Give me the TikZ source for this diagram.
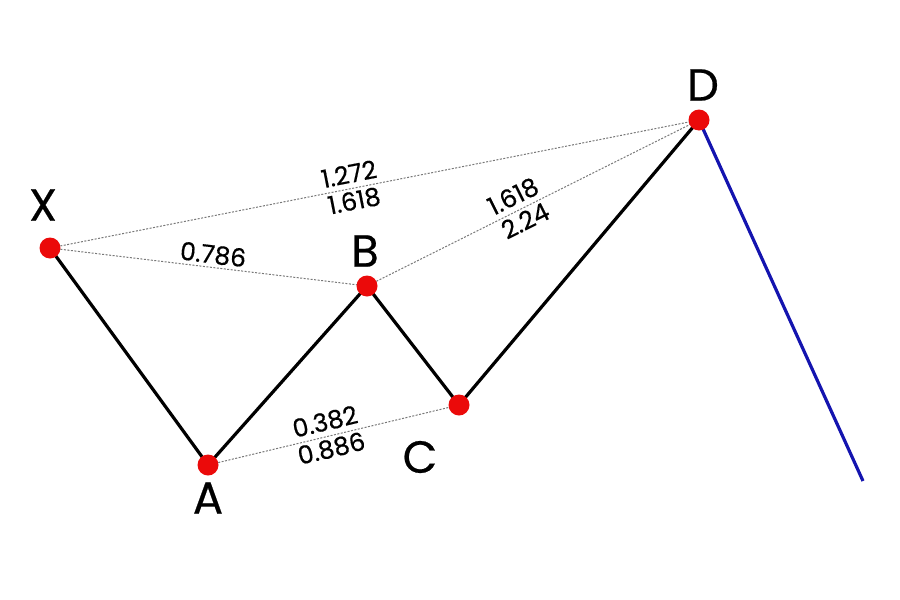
\documentclass[tikz,border=0pt]{standalone}
\usepackage{fontspec}
\setmainfont{Poppins}[FakeBold=0.5]
\definecolor{dotred}{RGB}{235,10,10}
\definecolor{legblue}{RGB}{20,20,175}
\definecolor{guide}{RGB}{120,120,120}
\begin{document}
\begin{tikzpicture}[x=1pt,y=-1pt,
  leg/.style={line width=3.2pt,black},
  blueleg/.style={line width=3.2pt,legblue},
  guideline/.style={line width=1pt,guide,dash pattern=on 2pt off 1.5pt},
  pt/.style={circle,fill=dotred,minimum size=21pt,inner sep=0pt},
  letter/.style={font=\fontsize{45}{45}\selectfont,text=black},
  ratio/.style={font=\fontsize{25}{25}\selectfont,text=black,sloped},
  up/.style={above,inner sep=5pt},
  down/.style={below,inner sep=2.5pt}]
\useasboundingbox (0,0) rectangle (900,600);
\coordinate (X) at (50,248);
\coordinate (A) at (208,465);
\coordinate (B) at (367,286);
\coordinate (C) at (459,405);
\coordinate (D) at (699,120);
\coordinate (E) at (863,481);
% guide lines
\draw[guideline] (X) -- (D)
  node[ratio,pos=0.465,up] (r1) {1.272}
  node[ratio,pos=0.465,down] (r2) {1.618};
\draw[guideline] (X) -- (B)
  node[ratio,pos=0.51,up,inner sep=3pt] (r3) {0.786};
\draw[guideline] (B) -- (D)
  node[ratio,pos=0.46,up] (r4) {1.618}
  node[ratio,pos=0.46,down] (r5) {2.24};
\draw[guideline] (A) -- (C)
  node[ratio,pos=0.48,up] (r6) {0.382}
  node[ratio,pos=0.48,down] (r7) {0.886};
% legs
\draw[leg,line join=round] (X) -- (A) -- (B) -- (C) -- (D);
\draw[blueleg] (D) -- (E);
% points
\node[pt] (pX) at (X) {};
\node[pt] (pA) at (A) {};
\node[pt] (pB) at (B) {};
\node[pt] (pC) at (C) {};
\node[pt] (pD) at (D) {};
% letters
\node[letter] (lX) at (43,205) {X};
\node[letter] (lA) at (208,498) {A};
\node[letter] (lB) at (365,251) {B};
\node[letter] (lC) at (420,457) {C};
\node[letter] (lD) at (703,85) {D};
\end{tikzpicture}
\end{document}
